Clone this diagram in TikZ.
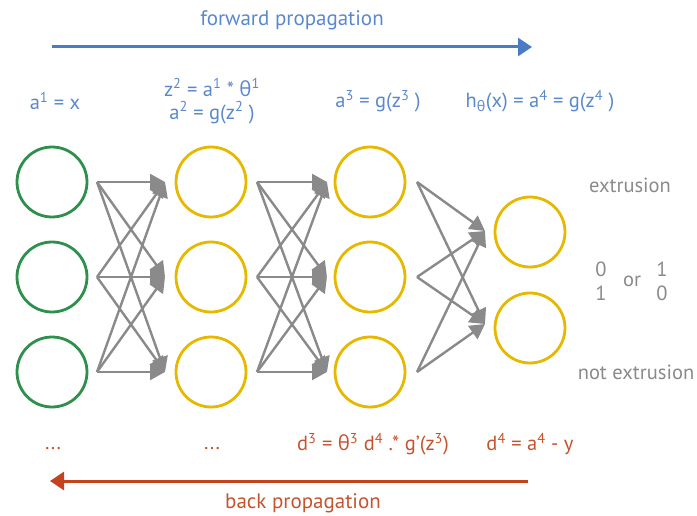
\documentclass[tikz,border=0pt]{standalone}
\usepackage{fontspec}
\setmainfont{PT Sans}
\newfontfamily\grk{Open Sans}
\newcommand{\thet}{{\grk θ}}
\usetikzlibrary{arrows.meta}
\definecolor{cgreen}{HTML}{2E8F4F}
\definecolor{cyellow}{HTML}{E6B800}
\definecolor{cgray}{HTML}{8A8A8A}
\definecolor{cblue}{HTML}{4A7CC6}
\definecolor{cbluetext}{HTML}{5A88CC}
\definecolor{cred}{HTML}{C4431F}
\definecolor{credtext}{HTML}{C4532E}
\begin{document}
\begin{tikzpicture}[x=1pt,y=-1pt,
  neuron/.style={circle,minimum size=70pt,inner sep=0pt,line width=2.8pt},
  conn/.style={draw=cgray,line width=2.4pt,-{Triangle[length=15pt,width=16pt]}},
  bluelbl/.style={text=cbluetext,font=\fontsize{20.5}{23}\selectfont,inner sep=0pt,align=center},
  redlbl/.style={text=credtext,font=\fontsize{20.5}{23}\selectfont,inner sep=0pt},
  graylbl/.style={text=cgray,font=\fontsize{20.5}{23}\selectfont,inner sep=0pt},
  bigarrow/.style={line width=3pt,-{Triangle[length=14pt,width=18pt]}}
]
\useasboundingbox (0,0) rectangle (697,516);
% neurons
\foreach \i/\y in {1/182,2/277,3/372}{
  \node[neuron,draw=cgreen] (l1n\i) at (52,\y) {};
  \node[neuron,draw=cyellow] (l2n\i) at (211,\y) {};
  \node[neuron,draw=cyellow] (l3n\i) at (370,\y) {};
  \coordinate (s1\i) at (97,\y);
  \coordinate (t1\i) at (165,\y);
  \coordinate (s2\i) at (257,\y);
  \coordinate (t2\i) at (327,\y);
  \coordinate (s3\i) at (417,\y);
}
\node[neuron,draw=cyellow] (l4n1) at (530,232) {};
\node[neuron,draw=cyellow] (l4n2) at (530,328) {};
\coordinate (t31) at (485,231);
\coordinate (t32) at (485,324);
% connections
\foreach \i in {1,2,3}{
  \foreach \j in {1,2,3}{
    \draw[conn] (s1\i) -- (t1\j);
    \draw[conn] (s2\i) -- (t2\j);
  }
  \foreach \j in {1,2}{
    \draw[conn] (s3\i) -- (t3\j);
  }
}
% forward propagation
\node[text=cbluetext,font=\fontsize{21}{24}\selectfont,inner sep=0pt] (fwd) at (292,20) {forward propagation};
\coordinate (fs) at (52,47);
\coordinate (fe) at (532,47);
\draw[bigarrow,draw=cblue,fill=cblue] (fs) -- (fe);
% forward labels
\node[bluelbl] (la1) at (55,101) {a\textsuperscript{1} = x};
\node[bluelbl] (la2) at (212,101) {z\textsuperscript{2} = a\textsuperscript{1} * \thet\textsuperscript{1}\\a\textsuperscript{2} = g(z\textsuperscript{2} )};
\node[bluelbl] (la3) at (378,101) {a\textsuperscript{3} = g(z\textsuperscript{3} )};
\node[bluelbl] (la4) at (540,101) {h\textsubscript{\thet}(x) = a\textsuperscript{4} = g(z\textsuperscript{4} )};
% outputs
\node[graylbl] (ext) at (630,185) {extrusion};
\node[graylbl] (o1) at (601,269) {0};
\node[graylbl] (o2) at (601,293) {1};
\node[graylbl] (or) at (632,281) {or};
\node[graylbl] (o3) at (662,269) {1};
\node[graylbl] (o4) at (662,293) {0};
\node[graylbl] (next) at (636,372) {not extrusion};
% back propagation
\node[redlbl] (dots1) at (53,449) {...};
\node[redlbl] (dots2) at (212,449) {...};
\node[redlbl] (d3) at (373,444) {d\textsuperscript{3} = \thet\textsuperscript{3} d\textsuperscript{4} .* g’(z\textsuperscript{3})};
\node[redlbl] (d4) at (530,444) {d\textsuperscript{4} = a\textsuperscript{4} - y};
\coordinate (bs) at (528,481);
\coordinate (be) at (50,481);
\draw[bigarrow,draw=cred,fill=cred] (bs) -- (be);
\node[text=credtext,font=\fontsize{21}{24}\selectfont,inner sep=0pt] (back) at (303,503) {back propagation};
\end{tikzpicture}
\end{document}
